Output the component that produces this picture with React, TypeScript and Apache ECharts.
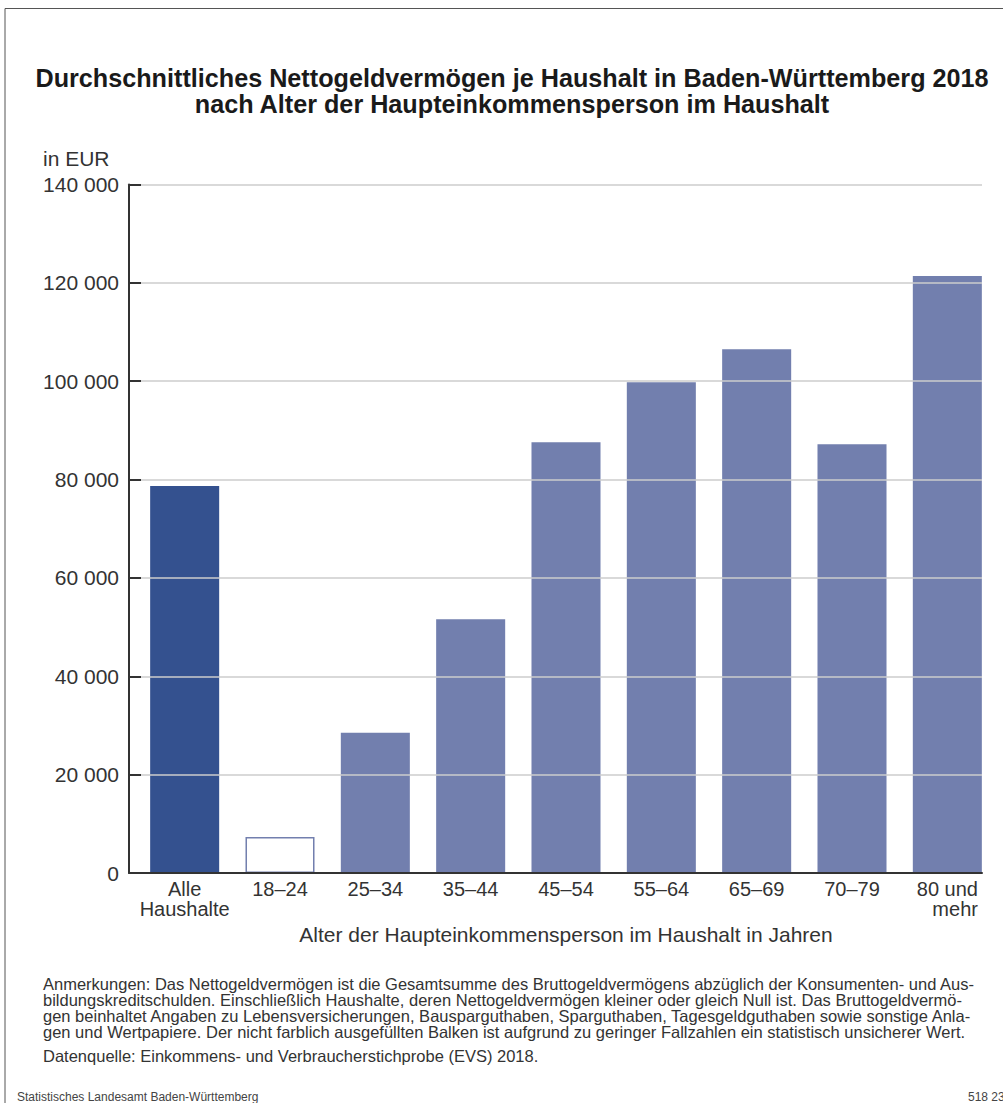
import React, { useEffect, useRef } from "react";
import * as echarts from "echarts";

const categories = ["Alle\nHaushalte", "18–24", "25–34", "35–44", "45–54", "55–64", "65–69", "70–79", "80 und\nmehr"];
const values = [78700, 7300, 28500, 51600, 87600, 99800, 106500, 87200, 121400];
const uncertain = [false, true, false, false, false, false, false, false, false];
const yTicks = [0, 20000, 40000, 60000, 80000, 100000, 120000, 140000];

const titleLines = [
  "Durchschnittliches Nettogeldvermögen je Haushalt in Baden-Württemberg 2018",
  "nach Alter der Haupteinkommensperson im Haushalt",
];
const noteLines = [
  "Anmerkungen: Das Nettogeldvermögen ist die Gesamtsumme des Bruttogeldvermögens abzüglich der Konsumenten- und Aus-",
  "bildungskreditschulden. Einschließlich Haushalte, deren Nettogeldvermögen kleiner oder gleich Null ist. Das Bruttogeldvermö-",
  "gen beinhaltet Angaben zu Lebensversicherungen, Bausparguthaben, Sparguthaben, Tagesgeldguthaben sowie sonstige Anla-",
  "gen und Wertpapiere. Der nicht farblich ausgefüllten Balken ist aufgrund zu geringer Fallzahlen ein statistisch unsicherer Wert.",
];
const sourceText = "Datenquelle: Einkommens- und Verbraucherstichprobe (EVS) 2018.";
const footerLeft = "Statistisches Landesamt Baden-Württemberg";
const footerRight = "518 23";
const unitText = "in EUR";
const xAxisName = "Alter der Haupteinkommensperson im Haushalt in Jahren";

const FONT = "'Liberation Sans', Arial, Helvetica, sans-serif";
const DARK = "#34518f";
const LIGHT = "#727fae";

function fmt(v: number): string {
  return String(v).replace(/\B(?=(\d{3})+(?!\d))/g, " ");
}

export default function App() {
  const ref = useRef<HTMLDivElement>(null);
  useEffect(() => {
    if (!ref.current) return;
    const chart = echarts.init(ref.current, undefined, { renderer: "svg" });
    const yMax = yTicks[yTicks.length - 1];
    const yInterval = yTicks[1] - yTicks[0];
    const gridTop = 184.5;
    const gridBottom = 1103 - 873;

    const graphics: any[] = [];
    graphics.push({
      type: "rect",
      shape: { x: 5, y: 8.5, width: 1100, height: 1200 },
      style: { fill: "none", stroke: "#555", lineWidth: 1 },
      silent: true,
    });
    titleLines.forEach((t, i) => {
      graphics.push({
        type: "text",
        x: 512,
        y: 78 + i * 26,
        style: {
          text: t,
          font: `bold 25.2px ${FONT}`,
          fill: "#1a1a1a",
          textAlign: "center",
          textVerticalAlign: "middle",
        },
      });
    });
    graphics.push({
      type: "text",
      x: 43,
      y: 158,
      style: { text: unitText, font: `21px ${FONT}`, fill: "#333", textAlign: "left", textVerticalAlign: "middle" },
    });
    noteLines.forEach((t, i) => {
      graphics.push({
        type: "text",
        x: 43,
        y: 984 + i * 16,
        style: { text: t, font: `16.5px ${FONT}`, fill: "#333", textAlign: "left", textVerticalAlign: "middle" },
      });
    });
    graphics.push({
      type: "text",
      x: 43,
      y: 1056,
      style: { text: sourceText, font: `16.5px ${FONT}`, fill: "#333", textAlign: "left", textVerticalAlign: "middle" },
    });
    graphics.push({
      type: "text",
      x: 17,
      y: 1097,
      style: { text: footerLeft, font: `12px ${FONT}`, fill: "#444", textAlign: "left", textVerticalAlign: "middle" },
    });
    graphics.push({
      type: "text",
      x: 968,
      y: 1097,
      style: { text: footerRight, font: `12px ${FONT}`, fill: "#444", textAlign: "left", textVerticalAlign: "middle" },
    });

    chart.setOption({
      animation: false,
      backgroundColor: "#fff",
      textStyle: { fontFamily: FONT },
      grid: [
        { left: 137, right: 8, top: gridTop, bottom: gridBottom, containLabel: false },
        { left: 129, right: 21, top: gridTop, bottom: gridBottom, containLabel: false },
      ],
      xAxis: [
        {
          type: "category",
          gridIndex: 0,
          data: categories,
          axisLine: { show: false },
          axisTick: { show: false },
          axisLabel: {
            interval: 0,
            margin: 6,
            color: "#333",
            fontSize: 20,
            lineHeight: 20,
            fontFamily: FONT,
            formatter: (v: string) => {
              const parts = v.split("\n");
              if (v.indexOf("80 und") === 0) return parts.map((p) => `{r|${p}}`).join("\n");
              return parts.map((p) => `{c|${p}}`).join("\n");
            },
            rich: {
              r: { align: "right", fontSize: 20, lineHeight: 20, color: "#333", fontFamily: FONT },
              c: { align: "center", fontSize: 20, lineHeight: 20, color: "#333", fontFamily: FONT },
            },
          },
          name: xAxisName,
          nameLocation: "middle",
          nameGap: 51,
          nameTextStyle: { fontSize: 21, color: "#333", fontFamily: FONT },
        },
        {
          type: "value",
          gridIndex: 1,
          min: 0,
          max: 1,
          z: 5,
          axisLine: { show: true, lineStyle: { color: "#333", width: 2 } },
          axisTick: { show: false },
          axisLabel: { show: false },
          splitLine: { show: false },
        },
      ],
      yAxis: [
        {
          type: "value",
          gridIndex: 0,
          min: 0,
          max: yMax,
          interval: yInterval,
          show: false,
          splitLine: { show: false },
        },
        {
          type: "value",
          gridIndex: 1,
          min: 0,
          max: yMax,
          interval: yInterval,
          z: 5,
          axisLine: { show: true, lineStyle: { color: "#333", width: 2 } },
          axisTick: { show: true, inside: true, length: 12, lineStyle: { color: "#333", width: 2 } },
          axisLabel: {
            color: "#333",
            fontSize: 21,
            margin: 10,
            fontFamily: FONT,
            formatter: (v: number) => fmt(v),
          },
          splitLine: { show: true, lineStyle: { color: "#cccccc", width: 1.5 } },
        },
      ],
      series: [
        {
          type: "bar",
          xAxisIndex: 0,
          yAxisIndex: 0,
          barWidth: "72.4%",
          z: 2,
          data: values.map((v, i) => ({
            value: v,
            itemStyle: uncertain[i]
              ? { color: "#ffffff", borderColor: LIGHT, borderWidth: 1.5 }
              : { color: i === 0 ? DARK : LIGHT },
          })),
        },
      ],
      graphic: graphics,
    });
    return () => chart.dispose();
  }, []);
  return (
    <div
      ref={ref}
      style={{ position: "fixed", left: 0, top: 0, width: 1003, height: 1103, background: "#fff" }}
    />
  );
}
